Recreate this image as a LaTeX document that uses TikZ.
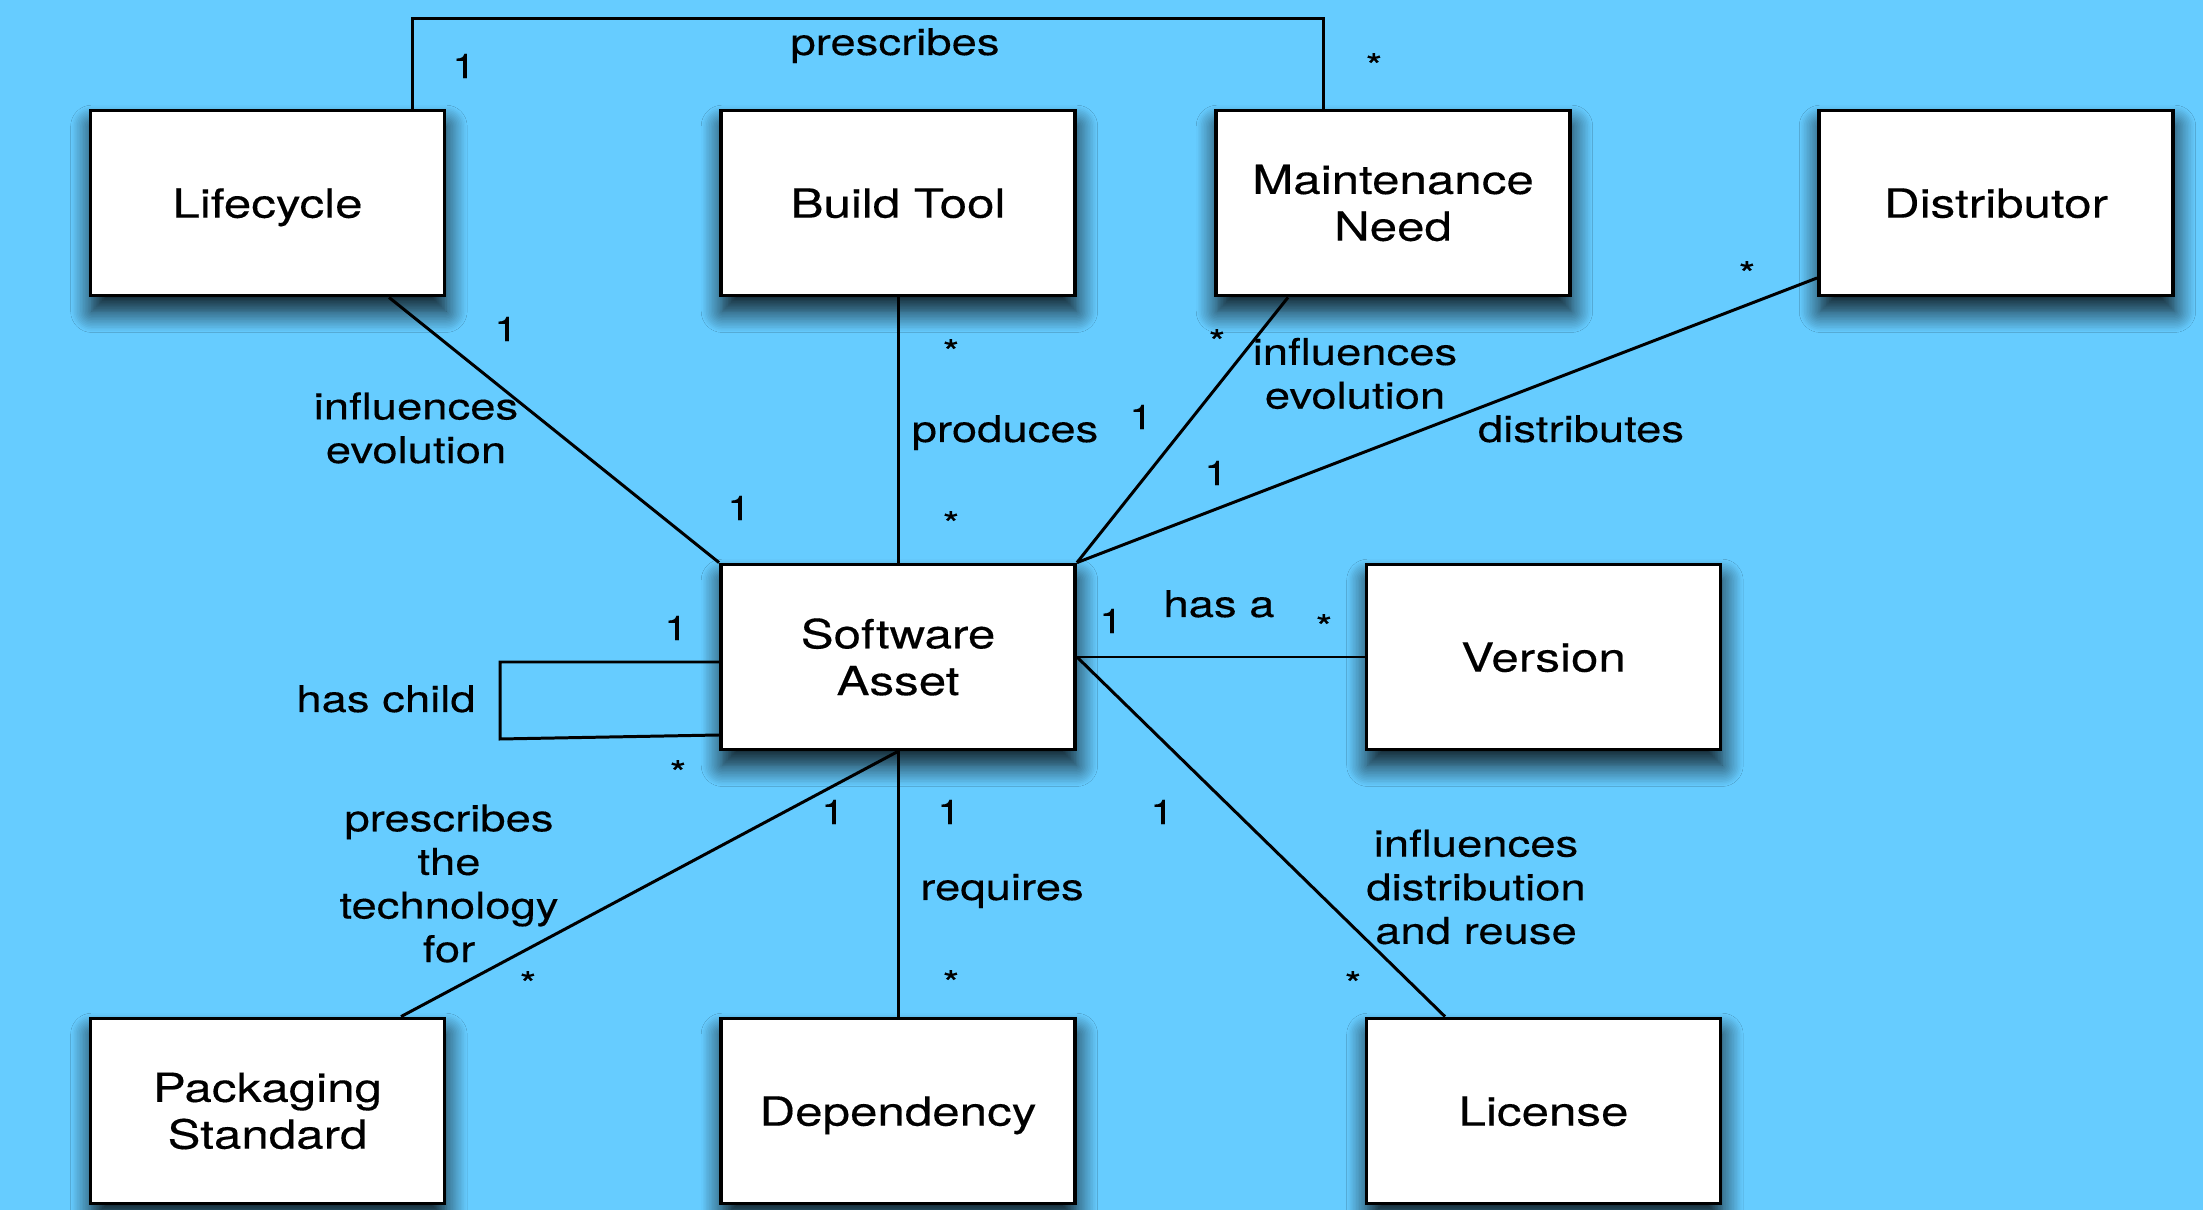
\documentclass[tikz,border=0pt]{standalone}
\usepackage{fontspec}
\setmainfont{TeX Gyre Heros}[FakeStretch=1.23, FakeBold=0.3]
\usetikzlibrary{shadows.blur}
\definecolor{sky}{HTML}{66CCFF}

\tikzset{
  entity/.style={draw=black, line width=1.05pt, fill=white,
    minimum width=3.54cm, minimum height=1.85cm, inner sep=0pt, align=center,
    font=\fontsize{11.4pt}{13.3pt}\selectfont,
    blur shadow={shadow xshift=0.4pt, shadow yshift=-4.5pt,
      shadow blur radius=6pt, shadow blur steps=14, shadow opacity=90}},
  flat/.style={text depth=0pt},
  link/.style={line width=0.85pt, draw=black},
  role/.style={font=\fontsize{10.5pt}{12.4pt}\selectfont, inner sep=0pt, align=center},
  mult/.style={font=\fontsize{9.7pt}{11pt}\selectfont, inner sep=0pt},
  star/.style={mult, anchor=base},
}

\begin{document}
\begin{tikzpicture}[x=0.01cm, y=-0.01cm]
% canvas
\fill[sky] (0,0) rectangle (2203,1210);
\useasboundingbox (0,0) rectangle (2203,1210);

% classes
\node[entity, flat] (lc) at (267.5,203)  {Lifecycle};
\node[entity, flat] (bt) at (898,203)    {Build Tool};
\node[entity]       (mn) at (1393,203)   {Maintenance\\Need};
\node[entity, flat] (ds) at (1996,203)   {Distributor};
\node[entity]       (sa) at (898,657)    {Software\\Asset};
\node[entity, flat] (vs) at (1543.5,657) {Version};
\node[entity]       (pk) at (267.5,1111) {Packaging\\Standard};
\node[entity, flat] (dp) at (898,1111)   {Dependency};
\node[entity, flat] (ls) at (1543.5,1111){License};

% bend points and attachment points
\coordinate (pr1) at (412,19);
\coordinate (pr2) at (1323,19);
\coordinate (lcfoot) at (389,298);
\coordinate (mnfoot) at (1288,298);
\coordinate (dsfoot) at (1817,278);
\coordinate (ch1) at (500,662);
\coordinate (ch2) at (500,739);
\coordinate (ch3) at (720,735);
\coordinate (pkhead) at (401,1017);
\coordinate (lshead) at (1445,1017);

% associations
\draw[link] (lc.north -| pr1) -- (pr1) -- (pr2) -- (mn.north -| pr2);
\draw[link] (lc.south -| lcfoot) -- (sa.north west);
\draw[link] (bt.south) -- (sa.north);
\draw[link] (mn.south -| mnfoot) -- (sa.north east);
\draw[link] (ds.west |- dsfoot) -- (sa.north east);
\draw[link] (sa.east) -- (vs.west);
\draw[link] (sa.west |- ch1) -- (ch1) -- (ch2) -- (sa.west |- ch3);
\draw[link] (sa.south) -- (pk.north -| pkhead);
\draw[link] (sa.south) -- (dp.north);
\draw[link] (sa.east) -- (ls.north -| lshead);

% association names
\node[role, anchor=base] (tPres)  at (895,55)    {prescribes};
\node[role]              (tInfL)  at (416,428)   {influences\\evolution};
\node[role, anchor=base] (tProd)  at (1005,442)  {produces};
\node[role]              (tInfR)  at (1355,373.5){influences\\evolution};
\node[role, anchor=base] (tDist)  at (1581,442)  {distributes};
\node[role, anchor=base] (tHasA)  at (1219,617)  {has a};
\node[role, anchor=base] (tChild) at (386,712)   {has child};
\node[role]              (tTech)  at (449,883.5) {prescribes\\the\\technology\\for};
\node[role, anchor=base] (tReq)   at (1002,900)  {requires};
\node[role]              (tLic)   at (1476,887)  {influences\\distribution\\and reuse};

% multiplicities
\node[mult] (m1)  at (464,66)   {1};
\node[star] (m2)  at (1374,78)  {*};
\node[mult] (m3)  at (506,329)  {1};
\node[mult] (m4)  at (739,508)  {1};
\node[star] (m5)  at (951,364)  {*};
\node[star] (m6)  at (951,536)  {*};
\node[star] (m7)  at (1217,354) {*};
\node[mult] (m8)  at (1141,417) {1};
\node[star] (m9)  at (1747,286) {*};
\node[mult] (m10) at (1216,473) {1};
\node[mult] (m11) at (1111,621) {1};
\node[star] (m12) at (1324,639) {*};
\node[mult] (m13) at (676,628)  {1};
\node[star] (m14) at (678,785)  {*};
\node[mult] (m15) at (833,812)  {1};
\node[star] (m16) at (528,996)  {*};
\node[mult] (m17) at (949,812)  {1};
\node[star] (m18) at (951,995)  {*};
\node[mult] (m19) at (1162,812) {1};
\node[star] (m20) at (1353,996) {*};
\end{tikzpicture}
\end{document}
